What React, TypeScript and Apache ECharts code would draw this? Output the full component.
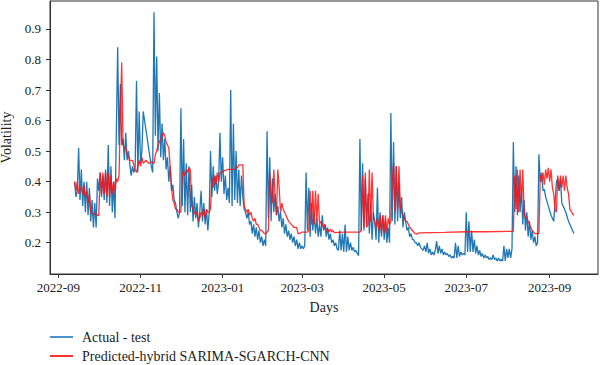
import React, { useEffect, useRef } from "react";
import * as echarts from "echarts";

const actualLabel = "Actual - test";
const predictedLabel = "Predicted-hybrid SARIMA-SGARCH-CNN";

const xTickDates = ["2022-09-01", "2022-11-01", "2023-01-01", "2023-03-01", "2023-05-01", "2023-07-01", "2023-09-01"];
const yTickValues = [0.2, 0.3, 0.4, 0.5, 0.6, 0.7, 0.8, 0.9];

const actual: [string, number][] = [
  ["2022-09-13", 0.40], ["2022-09-14", 0.35], ["2022-09-15", 0.37], ["2022-09-16", 0.51], ["2022-09-17", 0.34],
  ["2022-09-18", 0.44], ["2022-09-19", 0.32], ["2022-09-20", 0.40], ["2022-09-21", 0.30], ["2022-09-22", 0.40],
  ["2022-09-23", 0.29], ["2022-09-24", 0.38], ["2022-09-25", 0.27], ["2022-09-26", 0.34], ["2022-09-27", 0.25],
  ["2022-09-28", 0.33], ["2022-09-29", 0.25], ["2022-09-30", 0.41], ["2022-10-01", 0.37], ["2022-10-02", 0.43],
  ["2022-10-03", 0.35], ["2022-10-04", 0.42], ["2022-10-05", 0.34], ["2022-10-06", 0.44], ["2022-10-07", 0.33],
  ["2022-10-08", 0.52], ["2022-10-09", 0.32], ["2022-10-10", 0.45], ["2022-10-11", 0.30], ["2022-10-12", 0.40],
  ["2022-10-13", 0.28], ["2022-10-15", 0.84], ["2022-10-16", 0.52], ["2022-10-17", 0.72], ["2022-10-18", 0.52],
  ["2022-10-19", 0.54], ["2022-10-20", 0.47], ["2022-10-21", 0.56], ["2022-10-22", 0.47], ["2022-10-23", 0.50],
  ["2022-10-24", 0.46], ["2022-10-25", 0.42], ["2022-10-26", 0.45], ["2022-10-27", 0.43], ["2022-10-28", 0.45],
  ["2022-10-29", 0.73], ["2022-10-30", 0.43], ["2022-10-31", 0.63], ["2022-11-01", 0.46], ["2022-11-02", 0.50],
  ["2022-11-03", 0.63], ["2022-11-04", 0.60], ["2022-11-05", 0.57], ["2022-11-06", 0.54], ["2022-11-07", 0.51],
  ["2022-11-08", 0.48], ["2022-11-09", 0.45], ["2022-11-10", 0.43], ["2022-11-11", 0.955], ["2022-11-12", 0.55],
  ["2022-11-13", 0.81], ["2022-11-14", 0.50], ["2022-11-15", 0.69], ["2022-11-16", 0.48], ["2022-11-17", 0.59],
  ["2022-11-18", 0.47], ["2022-11-19", 0.54], ["2022-11-20", 0.44], ["2022-11-21", 0.48], ["2022-11-22", 0.40],
  ["2022-11-23", 0.45], ["2022-11-24", 0.37], ["2022-11-25", 0.39], ["2022-11-26", 0.34], ["2022-11-27", 0.33],
  ["2022-11-28", 0.30], ["2022-11-29", 0.28], ["2022-11-30", 0.30], ["2022-12-01", 0.64], ["2022-12-02", 0.32],
  ["2022-12-03", 0.54], ["2022-12-04", 0.30], ["2022-12-05", 0.46], ["2022-12-06", 0.29], ["2022-12-07", 0.45],
  ["2022-12-08", 0.30], ["2022-12-09", 0.39], ["2022-12-10", 0.27], ["2022-12-11", 0.35], ["2022-12-12", 0.28],
  ["2022-12-13", 0.33], ["2022-12-14", 0.25], ["2022-12-15", 0.30], ["2022-12-16", 0.37], ["2022-12-17", 0.27],
  ["2022-12-18", 0.33], ["2022-12-19", 0.26], ["2022-12-20", 0.31], ["2022-12-21", 0.24], ["2022-12-22", 0.30],
  ["2022-12-23", 0.50], ["2022-12-24", 0.35], ["2022-12-25", 0.45], ["2022-12-26", 0.37], ["2022-12-27", 0.42],
  ["2022-12-28", 0.36], ["2022-12-29", 0.40], ["2022-12-30", 0.56], ["2022-12-31", 0.40], ["2023-01-01", 0.48],
  ["2023-01-02", 0.36], ["2023-01-03", 0.42], ["2023-01-04", 0.34], ["2023-01-05", 0.38], ["2023-01-06", 0.33],
  ["2023-01-07", 0.70], ["2023-01-08", 0.32], ["2023-01-09", 0.59], ["2023-01-10", 0.34], ["2023-01-11", 0.50],
  ["2023-01-12", 0.33], ["2023-01-13", 0.44], ["2023-01-14", 0.32], ["2023-01-15", 0.42], ["2023-01-16", 0.35],
  ["2023-01-17", 0.31], ["2023-01-18", 0.30], ["2023-01-19", 0.28], ["2023-01-20", 0.30], ["2023-01-21", 0.26],
  ["2023-01-22", 0.27], ["2023-01-23", 0.23], ["2023-01-24", 0.26], ["2023-01-25", 0.22], ["2023-01-26", 0.25],
  ["2023-01-27", 0.21], ["2023-01-28", 0.24], ["2023-01-29", 0.20], ["2023-01-30", 0.22], ["2023-01-31", 0.19],
  ["2023-02-01", 0.21], ["2023-02-02", 0.19], ["2023-02-03", 0.565], ["2023-02-04", 0.28], ["2023-02-05", 0.48],
  ["2023-02-06", 0.27], ["2023-02-07", 0.41], ["2023-02-08", 0.30], ["2023-02-09", 0.36], ["2023-02-10", 0.29],
  ["2023-02-11", 0.32], ["2023-02-12", 0.27], ["2023-02-13", 0.30], ["2023-02-14", 0.25], ["2023-02-15", 0.28],
  ["2023-02-16", 0.23], ["2023-02-17", 0.26], ["2023-02-18", 0.22], ["2023-02-19", 0.24], ["2023-02-20", 0.21],
  ["2023-02-21", 0.23], ["2023-02-22", 0.20], ["2023-02-23", 0.22], ["2023-02-24", 0.19], ["2023-02-25", 0.21],
  ["2023-02-26", 0.18], ["2023-02-27", 0.20], ["2023-02-28", 0.18], ["2023-03-01", 0.19], ["2023-03-02", 0.18],
  ["2023-03-03", 0.19], ["2023-03-04", 0.43], ["2023-03-05", 0.24], ["2023-03-06", 0.38], ["2023-03-07", 0.22],
  ["2023-03-08", 0.33], ["2023-03-09", 0.24], ["2023-03-10", 0.30], ["2023-03-11", 0.23], ["2023-03-12", 0.28],
  ["2023-03-13", 0.22], ["2023-03-14", 0.26], ["2023-03-15", 0.22], ["2023-03-16", 0.29], ["2023-03-17", 0.24],
  ["2023-03-18", 0.26], ["2023-03-19", 0.22], ["2023-03-20", 0.25], ["2023-03-21", 0.21], ["2023-03-22", 0.23],
  ["2023-03-23", 0.20], ["2023-03-24", 0.21], ["2023-03-25", 0.19], ["2023-03-26", 0.20], ["2023-03-27", 0.18],
  ["2023-03-28", 0.175], ["2023-03-29", 0.24], ["2023-03-30", 0.175], ["2023-03-31", 0.23], ["2023-04-01", 0.17],
  ["2023-04-02", 0.26], ["2023-04-03", 0.17], ["2023-04-04", 0.22], ["2023-04-05", 0.175], ["2023-04-06", 0.20],
  ["2023-04-07", 0.175], ["2023-04-08", 0.185], ["2023-04-09", 0.17], ["2023-04-10", 0.175], ["2023-04-11", 0.165],
  ["2023-04-12", 0.158], ["2023-04-13", 0.54], ["2023-04-14", 0.24], ["2023-04-15", 0.46], ["2023-04-16", 0.24],
  ["2023-04-17", 0.41], ["2023-04-18", 0.26], ["2023-04-19", 0.36], ["2023-04-20", 0.23], ["2023-04-21", 0.33],
  ["2023-04-22", 0.21], ["2023-04-23", 0.30], ["2023-04-24", 0.27], ["2023-04-25", 0.21], ["2023-04-26", 0.38],
  ["2023-04-27", 0.20], ["2023-04-28", 0.30], ["2023-04-29", 0.22], ["2023-04-30", 0.29], ["2023-05-01", 0.21],
  ["2023-05-02", 0.27], ["2023-05-03", 0.20], ["2023-05-04", 0.25], ["2023-05-05", 0.20], ["2023-05-06", 0.625],
  ["2023-05-07", 0.27], ["2023-05-08", 0.53], ["2023-05-09", 0.26], ["2023-05-10", 0.45], ["2023-05-11", 0.27],
  ["2023-05-12", 0.40], ["2023-05-13", 0.28], ["2023-05-14", 0.35], ["2023-05-15", 0.25], ["2023-05-16", 0.30],
  ["2023-05-17", 0.27], ["2023-05-18", 0.24], ["2023-05-19", 0.25], ["2023-05-20", 0.22], ["2023-05-21", 0.23],
  ["2023-05-22", 0.21], ["2023-05-23", 0.21], ["2023-05-24", 0.20], ["2023-05-25", 0.20], ["2023-05-26", 0.19],
  ["2023-05-27", 0.20], ["2023-05-28", 0.185], ["2023-05-29", 0.18], ["2023-05-30", 0.175], ["2023-05-31", 0.19],
  ["2023-06-01", 0.17], ["2023-06-02", 0.20], ["2023-06-03", 0.165], ["2023-06-04", 0.18], ["2023-06-05", 0.16],
  ["2023-06-06", 0.17], ["2023-06-07", 0.16], ["2023-06-08", 0.175], ["2023-06-09", 0.205], ["2023-06-10", 0.165],
  ["2023-06-11", 0.19], ["2023-06-12", 0.165], ["2023-06-13", 0.18], ["2023-06-14", 0.16], ["2023-06-15", 0.17],
  ["2023-06-16", 0.16], ["2023-06-17", 0.165], ["2023-06-18", 0.155], ["2023-06-19", 0.16], ["2023-06-20", 0.15],
  ["2023-06-21", 0.155], ["2023-06-22", 0.15], ["2023-06-23", 0.20], ["2023-06-24", 0.15], ["2023-06-25", 0.19],
  ["2023-06-26", 0.155], ["2023-06-27", 0.17], ["2023-06-28", 0.16], ["2023-06-29", 0.165], ["2023-06-30", 0.16],
  ["2023-07-01", 0.30], ["2023-07-02", 0.17], ["2023-07-03", 0.27], ["2023-07-04", 0.17], ["2023-07-05", 0.24],
  ["2023-07-06", 0.17], ["2023-07-07", 0.21], ["2023-07-08", 0.165], ["2023-07-09", 0.19], ["2023-07-10", 0.16],
  ["2023-07-11", 0.175], ["2023-07-12", 0.155], ["2023-07-13", 0.165], ["2023-07-14", 0.15], ["2023-07-15", 0.16],
  ["2023-07-16", 0.15], ["2023-07-17", 0.155], ["2023-07-18", 0.145], ["2023-07-19", 0.15], ["2023-07-20", 0.145],
  ["2023-07-21", 0.16], ["2023-07-22", 0.145], ["2023-07-23", 0.15], ["2023-07-24", 0.14], ["2023-07-25", 0.15],
  ["2023-07-26", 0.14], ["2023-07-27", 0.145], ["2023-07-28", 0.14], ["2023-07-29", 0.19], ["2023-07-30", 0.14],
  ["2023-07-31", 0.18], ["2023-08-01", 0.15], ["2023-08-02", 0.18], ["2023-08-03", 0.15], ["2023-08-04", 0.18],
  ["2023-08-05", 0.53], ["2023-08-06", 0.30], ["2023-08-07", 0.45], ["2023-08-08", 0.29], ["2023-08-09", 0.42],
  ["2023-08-10", 0.30], ["2023-08-11", 0.38], ["2023-08-12", 0.26], ["2023-08-13", 0.34], ["2023-08-14", 0.24],
  ["2023-08-15", 0.30], ["2023-08-16", 0.22], ["2023-08-17", 0.27], ["2023-08-18", 0.21], ["2023-08-19", 0.24],
  ["2023-08-20", 0.20], ["2023-08-21", 0.22], ["2023-08-22", 0.19], ["2023-08-23", 0.20], ["2023-08-24", 0.49],
  ["2023-08-25", 0.40], ["2023-08-26", 0.43], ["2023-08-27", 0.37], ["2023-08-28", 0.375], ["2023-08-29", 0.35],
  ["2023-08-31", 0.32], ["2023-09-02", 0.29], ["2023-09-04", 0.27], ["2023-09-05", 0.33], ["2023-09-06", 0.40],
  ["2023-09-07", 0.41], ["2023-09-08", 0.37], ["2023-09-09", 0.41], ["2023-09-10", 0.33], ["2023-09-11", 0.32],
  ["2023-09-13", 0.30], ["2023-09-15", 0.27], ["2023-09-17", 0.25], ["2023-09-19", 0.23],
];

const predicted: [string, number][] = [
  ["2022-09-13", 0.40], ["2022-09-14", 0.37], ["2022-09-15", 0.40], ["2022-09-16", 0.36], ["2022-09-17", 0.38],
  ["2022-09-18", 0.38], ["2022-09-19", 0.36], ["2022-09-20", 0.39], ["2022-09-21", 0.35], ["2022-09-22", 0.37],
  ["2022-09-23", 0.33], ["2022-09-24", 0.36], ["2022-09-25", 0.30], ["2022-09-26", 0.295], ["2022-09-28", 0.295],
  ["2022-09-30", 0.29], ["2022-10-01", 0.29], ["2022-10-02", 0.43], ["2022-10-03", 0.36], ["2022-10-04", 0.43],
  ["2022-10-05", 0.36], ["2022-10-06", 0.43], ["2022-10-07", 0.35], ["2022-10-08", 0.43], ["2022-10-09", 0.35],
  ["2022-10-10", 0.42], ["2022-10-11", 0.36], ["2022-10-12", 0.40], ["2022-10-13", 0.37], ["2022-10-14", 0.41],
  ["2022-10-15", 0.40], ["2022-10-16", 0.42], ["2022-10-17", 0.62], ["2022-10-18", 0.79], ["2022-10-19", 0.52],
  ["2022-10-20", 0.51], ["2022-10-21", 0.51], ["2022-10-22", 0.49], ["2022-10-23", 0.48], ["2022-10-24", 0.47],
  ["2022-10-26", 0.47], ["2022-10-28", 0.44], ["2022-10-29", 0.43], ["2022-10-30", 0.45], ["2022-10-31", 0.47],
  ["2022-11-01", 0.45], ["2022-11-02", 0.48], ["2022-11-03", 0.46], ["2022-11-05", 0.47], ["2022-11-07", 0.46],
  ["2022-11-09", 0.465], ["2022-11-11", 0.46], ["2022-11-12", 0.49], ["2022-11-13", 0.50], ["2022-11-14", 0.52],
  ["2022-11-15", 0.53], ["2022-11-16", 0.54], ["2022-11-17", 0.55], ["2022-11-18", 0.56], ["2022-11-19", 0.55],
  ["2022-11-20", 0.53], ["2022-11-21", 0.52], ["2022-11-22", 0.51], ["2022-11-23", 0.45], ["2022-11-24", 0.38],
  ["2022-11-25", 0.34], ["2022-11-26", 0.33], ["2022-11-27", 0.31], ["2022-11-28", 0.31], ["2022-11-29", 0.30],
  ["2022-11-30", 0.30], ["2022-12-01", 0.30], ["2022-12-02", 0.43], ["2022-12-03", 0.43], ["2022-12-04", 0.42],
  ["2022-12-05", 0.44], ["2022-12-06", 0.43], ["2022-12-07", 0.445], ["2022-12-08", 0.44], ["2022-12-09", 0.32],
  ["2022-12-10", 0.31], ["2022-12-11", 0.30], ["2022-12-12", 0.29], ["2022-12-13", 0.30], ["2022-12-14", 0.27],
  ["2022-12-15", 0.28], ["2022-12-16", 0.30], ["2022-12-17", 0.29], ["2022-12-18", 0.31], ["2022-12-19", 0.28],
  ["2022-12-20", 0.31], ["2022-12-21", 0.30], ["2022-12-22", 0.30], ["2022-12-23", 0.31], ["2022-12-24", 0.41],
  ["2022-12-25", 0.38], ["2022-12-26", 0.42], ["2022-12-27", 0.39], ["2022-12-28", 0.43], ["2022-12-29", 0.40],
  ["2022-12-30", 0.43], ["2022-12-31", 0.43], ["2023-01-02", 0.435], ["2023-01-05", 0.44], ["2023-01-08", 0.44],
  ["2023-01-10", 0.44], ["2023-01-11", 0.45], ["2023-01-12", 0.445], ["2023-01-13", 0.455], ["2023-01-15", 0.455],
  ["2023-01-16", 0.455], ["2023-01-17", 0.32], ["2023-01-18", 0.31], ["2023-01-19", 0.30], ["2023-01-20", 0.31],
  ["2023-01-21", 0.29], ["2023-01-22", 0.30], ["2023-01-23", 0.28], ["2023-01-24", 0.27], ["2023-01-25", 0.28],
  ["2023-01-26", 0.26], ["2023-01-27", 0.26], ["2023-01-28", 0.25], ["2023-01-29", 0.24], ["2023-01-30", 0.24],
  ["2023-01-31", 0.235], ["2023-02-01", 0.23], ["2023-02-02", 0.23], ["2023-02-03", 0.235], ["2023-02-04", 0.24],
  ["2023-02-05", 0.43], ["2023-02-06", 0.36], ["2023-02-07", 0.33], ["2023-02-08", 0.44], ["2023-02-09", 0.35],
  ["2023-02-10", 0.29], ["2023-02-11", 0.44], ["2023-02-12", 0.38], ["2023-02-13", 0.30], ["2023-02-14", 0.33],
  ["2023-02-15", 0.31], ["2023-02-16", 0.30], ["2023-02-17", 0.29], ["2023-02-18", 0.28], ["2023-02-19", 0.27],
  ["2023-02-20", 0.265], ["2023-02-21", 0.26], ["2023-02-22", 0.255], ["2023-02-23", 0.25], ["2023-02-24", 0.25],
  ["2023-02-25", 0.25], ["2023-02-26", 0.23], ["2023-02-27", 0.23], ["2023-03-01", 0.235], ["2023-03-03", 0.235],
  ["2023-03-05", 0.235], ["2023-03-06", 0.24], ["2023-03-07", 0.37], ["2023-03-08", 0.26], ["2023-03-09", 0.37],
  ["2023-03-10", 0.26], ["2023-03-11", 0.37], ["2023-03-12", 0.27], ["2023-03-13", 0.36], ["2023-03-14", 0.26],
  ["2023-03-15", 0.27], ["2023-03-16", 0.26], ["2023-03-17", 0.25], ["2023-03-18", 0.26], ["2023-03-19", 0.24],
  ["2023-03-20", 0.245], ["2023-03-21", 0.235], ["2023-03-22", 0.245], ["2023-03-23", 0.235], ["2023-03-24", 0.24],
  ["2023-03-25", 0.233], ["2023-04-01", 0.235], ["2023-04-13", 0.235], ["2023-04-14", 0.24], ["2023-04-15", 0.42],
  ["2023-04-16", 0.25], ["2023-04-17", 0.43], ["2023-04-18", 0.25], ["2023-04-19", 0.26], ["2023-04-20", 0.44],
  ["2023-04-21", 0.27], ["2023-04-22", 0.43], ["2023-04-23", 0.28], ["2023-04-24", 0.27], ["2023-04-25", 0.25],
  ["2023-04-26", 0.28], ["2023-04-27", 0.24], ["2023-04-28", 0.29], ["2023-04-29", 0.23], ["2023-04-30", 0.29],
  ["2023-05-01", 0.24], ["2023-05-02", 0.29], ["2023-05-03", 0.23], ["2023-05-04", 0.28], ["2023-05-05", 0.26],
  ["2023-05-06", 0.27], ["2023-05-07", 0.40], ["2023-05-08", 0.46], ["2023-05-09", 0.30], ["2023-05-10", 0.45],
  ["2023-05-11", 0.31], ["2023-05-12", 0.45], ["2023-05-13", 0.32], ["2023-05-14", 0.30], ["2023-05-15", 0.29],
  ["2023-05-16", 0.28], ["2023-05-17", 0.27], ["2023-05-18", 0.27], ["2023-05-19", 0.26], ["2023-05-20", 0.25],
  ["2023-05-21", 0.245], ["2023-05-22", 0.24], ["2023-05-23", 0.235], ["2023-05-24", 0.23], ["2023-05-25", 0.228],
  ["2023-05-27", 0.232], ["2023-06-15", 0.234], ["2023-07-01", 0.236], ["2023-07-15", 0.236], ["2023-08-01", 0.237],
  ["2023-08-05", 0.237], ["2023-08-06", 0.42], ["2023-08-07", 0.31], ["2023-08-08", 0.44], ["2023-08-09", 0.30],
  ["2023-08-10", 0.44], ["2023-08-11", 0.33], ["2023-08-12", 0.44], ["2023-08-13", 0.30], ["2023-08-14", 0.28],
  ["2023-08-15", 0.285], ["2023-08-16", 0.27], ["2023-08-17", 0.26], ["2023-08-18", 0.25], ["2023-08-19", 0.24],
  ["2023-08-20", 0.235], ["2023-08-21", 0.23], ["2023-08-22", 0.23], ["2023-08-24", 0.23], ["2023-08-25", 0.42],
  ["2023-08-26", 0.40], ["2023-08-27", 0.43], ["2023-08-28", 0.39], ["2023-08-29", 0.44], ["2023-08-30", 0.41],
  ["2023-08-31", 0.445], ["2023-09-01", 0.40], ["2023-09-02", 0.44], ["2023-09-03", 0.38], ["2023-09-04", 0.36],
  ["2023-09-05", 0.31], ["2023-09-06", 0.30], ["2023-09-07", 0.42], ["2023-09-08", 0.37], ["2023-09-09", 0.42],
  ["2023-09-10", 0.38], ["2023-09-11", 0.42], ["2023-09-12", 0.37], ["2023-09-13", 0.42], ["2023-09-14", 0.38],
  ["2023-09-15", 0.36], ["2023-09-16", 0.31], ["2023-09-18", 0.295], ["2023-09-19", 0.29],
];

const FONT = "'Liberation Serif', 'DejaVu Serif', serif";

function toTime(s: string): number {
  const [y, m, d] = s.split("-").map(Number);
  return Date.UTC(y, m - 1, d);
}

export default function App() {
  const ref = useRef<HTMLDivElement>(null);
  useEffect(() => {
    if (!ref.current) return;
    const chart = echarts.init(ref.current, null, { renderer: "svg" });
    const xTicks = xTickDates.map(toTime);
    const DAY = 86400000;
    chart.setOption({
      animation: false,
      backgroundColor: "#ffffff",
      grid: {
        left: 50, right: 2, top: 1, bottom: 91,
        outerBoundsMode: "none",
        containLabel: false,
        show: true, borderColor: "#333", borderWidth: 1, backgroundColor: "transparent",
      },
      legend: {
        orient: "vertical",
        left: 50,
        top: 329,
        height: 60,
        padding: 0,
        itemWidth: 23,
        itemHeight: 2,
        itemGap: 3,
        icon: "rect",
        textStyle: { fontFamily: FONT, fontSize: 14, lineHeight: 16, color: "#222", padding: [0, 0, 0, 4] },
        data: [actualLabel, predictedLabel],
      },
      xAxis: {
        type: "value",
        min: toTime("2022-09-01") - 6.28 * DAY,
        max: toTime("2023-09-01") + 35.9 * DAY,
        name: "Days",
        nameLocation: "middle",
        nameGap: 26,
        nameTextStyle: { fontFamily: FONT, fontSize: 14, color: "#222" },
        axisLine: { show: true, onZero: false, lineStyle: { color: "#333", width: 1 } },
        axisTick: { show: true, length: 4, lineStyle: { color: "#333" }, customValues: xTicks },
        axisLabel: {
          fontFamily: FONT, fontSize: 13, color: "#222", margin: 7,
          customValues: xTicks,
          formatter: (v: number) => {
            const d = new Date(v);
            return d.getUTCFullYear() + "-" + String(d.getUTCMonth() + 1).padStart(2, "0");
          },
        },
        splitLine: { show: false },
      },
      yAxis: {
        type: "value",
        min: 0.0976,
        max: 0.9916,
        name: "Volatility",
        nameLocation: "middle",
        nameGap: 35,
        nameTextStyle: { fontFamily: FONT, fontSize: 14, color: "#222" },
        axisLine: { show: true, lineStyle: { color: "#333", width: 1 } },
        axisTick: { show: true, length: 4, lineStyle: { color: "#333" }, customValues: yTickValues },
        axisLabel: {
          fontFamily: FONT, fontSize: 13, color: "#222", margin: 9,
          customValues: yTickValues,
          formatter: (v: number) => v.toFixed(1),
        },
        splitLine: { show: false },
      },
      series: [
        {
          name: actualLabel,
          type: "line",
          data: actual.map(([d, v]) => [toTime(d), v]),
          showSymbol: false,
          symbol: "none",
          lineStyle: { color: "#1f77b4", width: 1.3 },
          itemStyle: { color: "#4a93cc" },
        },
        {
          name: predictedLabel,
          type: "line",
          data: predicted.map(([d, v]) => [toTime(d), v]),
          showSymbol: false,
          symbol: "none",
          lineStyle: { color: "#ff1010", width: 1.3, opacity: 0.85 },
          itemStyle: { color: "#ff3030" },
        },
      ],
    });
    return () => chart.dispose();
  }, []);
  return <div ref={ref} style={{ position: "fixed", left: 0, top: 0, width: 600, height: 365, background: "#fff" }} />;
}
